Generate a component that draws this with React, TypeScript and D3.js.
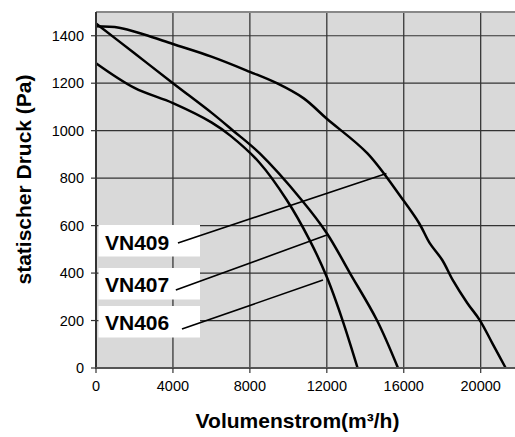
import React from "react";
import * as d3 from "d3";

const xTicks = [0, 4000, 8000, 12000, 16000, 20000];
const yTicks = [0, 200, 400, 600, 800, 1000, 1200, 1400];
const xGrid = [4000, 8000, 12000, 16000, 20000];
const yGrid = [200, 400, 600, 800, 1000, 1200, 1400, 1500];

const vn406Q = [0, 2000, 4000, 6000, 7000, 8500, 9900, 11100, 12000, 12800, 13600];
const vn406P = [1284, 1180, 1116, 1035, 978, 865, 710, 540, 383, 205, 0];

const vn407Q = [0, 2000, 4000, 6000, 7100, 8500, 10700, 12000, 13200, 14600, 15700];
const vn407P = [1452, 1326, 1200, 1076, 1002, 905, 707, 568, 400, 202, 0];

const vn409Q = [0, 1200, 2500, 4000, 6000, 8000, 9400, 10800, 12000, 14100, 15900, 16800, 17350, 18000, 18550, 19300, 19950, 20600, 21300];
const vn409P = [1440, 1434, 1405, 1365, 1312, 1248, 1200, 1136, 1050, 905, 715, 610, 526, 455, 370, 274, 202, 105, 0];

const labelNames = ["VN409", "VN407", "VN406"];
const labelFromQ = [4260, 4150, 4470];
const labelFromP = [527, 329, 164];
const labelToQ = [15100, 12000, 11800];
const labelToP = [820, 560, 371];

const W = 515;
const H = 437;
const left = 96, top = 12, bottom = 368;
const x = d3.scaleLinear().domain([0, 22000]).range([left, left + 5.5 * 76.94]);
const y = d3.scaleLinear().domain([0, 1500]).range([bottom, top]);

const line = d3
  .line<[number, number]>()
  .x((d) => x(d[0]))
  .y((d) => y(d[1]))
  .curve(d3.curveCatmullRom.alpha(0.5));

const zip = (a: number[], b: number[]) => a.map((v, i) => [v, b[i]] as [number, number]);

const series = [zip(vn406Q, vn406P), zip(vn407Q, vn407P), zip(vn409Q, vn409P)];

const boxTop = [225, 268, 306];
const boxH = 31.5;
const textBase = [250, 291.5, 330];

export default function App() {
  const font = "Arial, 'Liberation Sans', sans-serif";
  return (
    <svg
      width={W}
      height={H}
      style={{ position: "absolute", left: 0, top: 0, background: "#fff" }}
      fontFamily={font}
    >
      <rect x={left} y={top} width={x(22000) - left} height={bottom - top} fill="#d9d9d9" />
      {xGrid.map((v) => (
        <line key={"xg" + v} x1={x(v)} x2={x(v)} y1={top} y2={bottom} stroke="#2a2a2a" strokeWidth={1.2} />
      ))}
      {yGrid.map((v) => (
        <line
          key={"yg" + v}
          x1={left}
          x2={W}
          y1={y(v)}
          y2={y(v)}
          stroke={v === 1500 ? "#888" : "#333"}
          strokeWidth={v === 1500 ? 2 : 1.2}
        />
      ))}
      {labelNames.map((n, i) => (
        <rect key={"b" + n} x={98.5} y={boxTop[i]} width={101.5} height={boxH} fill="#fff" />
      ))}
      {series.map((s, i) => (
        <path key={"s" + i} d={line(s) || ""} fill="none" stroke="#000" strokeWidth={2.5} />
      ))}
      {labelNames.map((n, i) => (
        <line
          key={"l" + n}
          x1={x(labelFromQ[i])}
          y1={y(labelFromP[i])}
          x2={x(labelToQ[i])}
          y2={y(labelToP[i])}
          stroke="#000"
          strokeWidth={1.6}
        />
      ))}
      {labelNames.map((n, i) => (
        <text key={"t" + n} x={105} y={textBase[i]} fontSize={21} fontWeight="bold" fill="#000">
          {n}
        </text>
      ))}
      <line x1={left} x2={left} y1={top} y2={bottom + 1} stroke="#333" strokeWidth={2} />
      <line x1={left - 1} x2={W} y1={bottom} y2={bottom} stroke="#555" strokeWidth={2.2} />
      {yTicks.map((v) => (
        <g key={"yt" + v}>
          <line x1={left - 5} x2={left} y1={y(v)} y2={y(v)} stroke="#333" strokeWidth={1.2} />
          <text x={84} y={y(v)} dy="0.36em" textAnchor="end" fontSize={14.5} fill="#000">
            {v}
          </text>
        </g>
      ))}
      {xTicks.map((v) => (
        <g key={"xt" + v}>
          <line x1={x(v)} x2={x(v)} y1={bottom} y2={bottom + 5} stroke="#333" strokeWidth={1.2} />
          <text x={x(v)} y={391} textAnchor="middle" fontSize={14.5} fill="#000">
            {v}
          </text>
        </g>
      ))}
      <text x={297.5} y={428} textAnchor="middle" fontSize={21} fontWeight="bold" fill="#000">
        Volumenstrom(m³/h)
      </text>
      <text
        transform={`translate(31,179.5) rotate(-90)`}
        textAnchor="middle"
        fontSize={21}
        fontWeight="bold"
        fill="#000"
      >
        statischer Druck (Pa)
      </text>
    </svg>
  );
}
